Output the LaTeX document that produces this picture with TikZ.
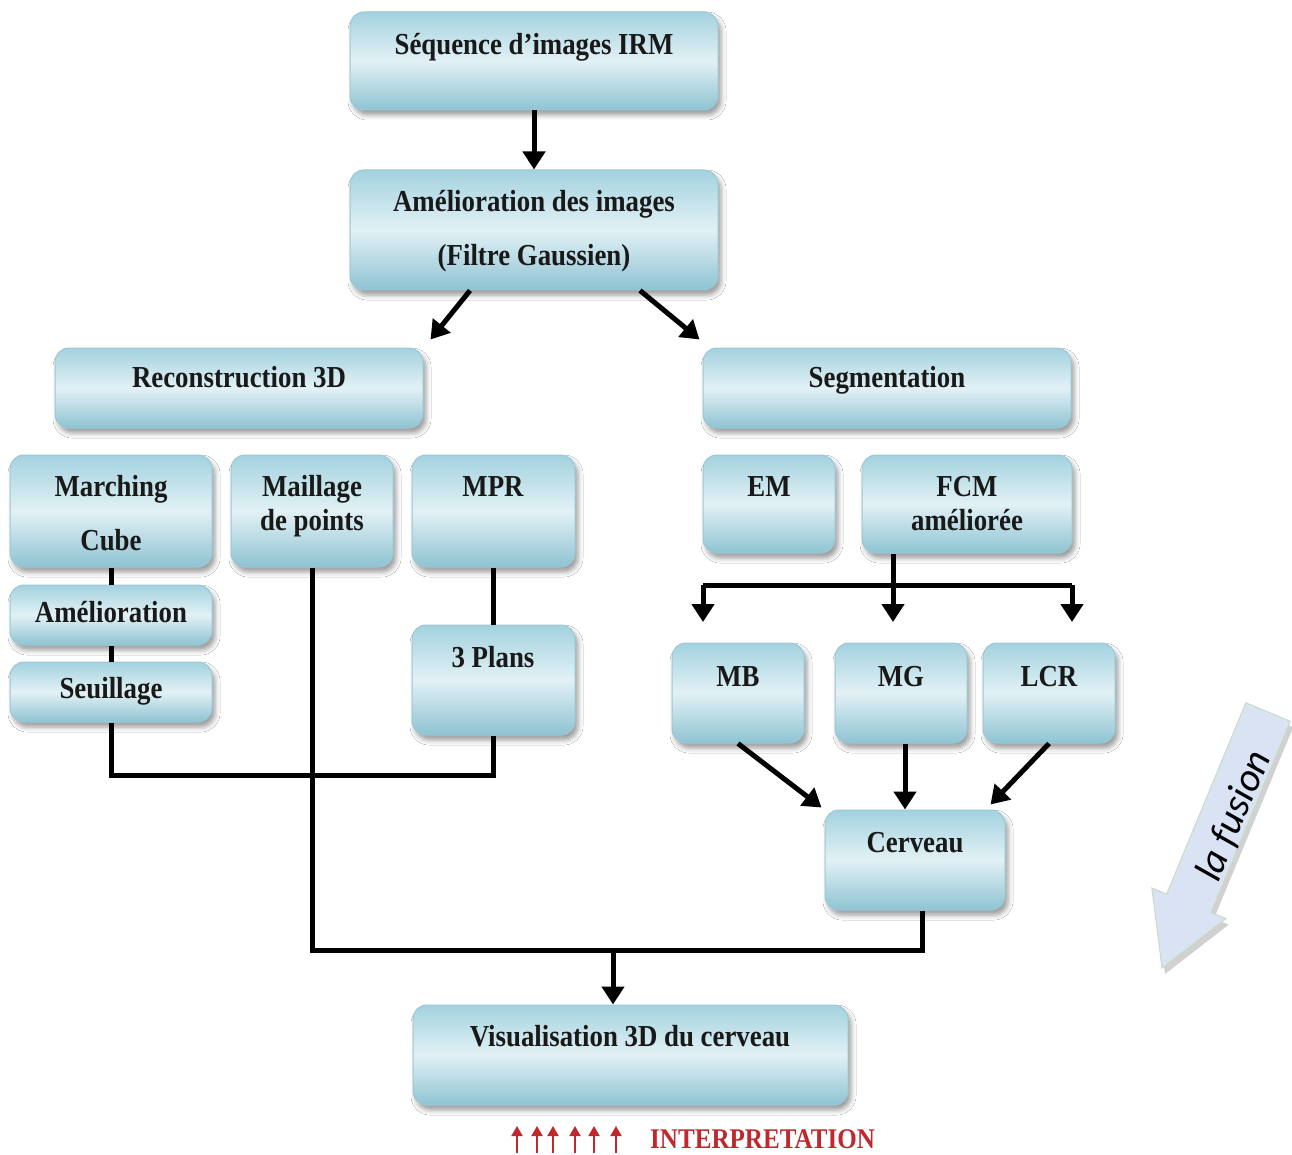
\documentclass[tikz,border=0pt]{standalone}
\usepackage{fontspec}
\setmainfont{Liberation Serif}[FakeStretch=0.88]
\newfontfamily\fusionfont{Carlito}
\usetikzlibrary{arrows.meta,shadows.blur,calc}
\definecolor{btop}{HTML}{A3D2DF}
\definecolor{bmid}{HTML}{E2F1F5}
\definecolor{bbot}{HTML}{8EC3D2}
\definecolor{bdraw}{HTML}{9CC8D5}
\definecolor{fusfill}{HTML}{D9E3F3}
\definecolor{fusdraw}{HTML}{C8DCC4}
\definecolor{redtxt}{HTML}{C0282D}
\tikzset{
 box/.style={draw=bdraw, line width=1pt, rounded corners=14pt, top color=btop, bottom color=bbot, middle color=bmid,
   blur shadow={shadow xshift=3pt, shadow yshift=-5pt, shadow blur radius=5pt, shadow opacity=40}, inner sep=0pt},
 txt/.style={font=\fontsize{30.5}{34}\selectfont\bfseries, text=black!90, anchor=base, inner sep=0pt},
 ln/.style={line width=5pt, black},
 arr/.style={ln, -{Triangle[length=18pt,width=22pt]}},
 redarr/.style={line width=2pt, redtxt, -{Triangle[length=10pt,width=11pt]}},
}
\newcommand\bx[5]{%
  \node[box, minimum width={(#4-#2)*1pt}, minimum height={(#5-#3)*1pt}] (#1) at ({(#2+#4)/2},{(#3+#5)/2}) {};}
\begin{document}
\begin{tikzpicture}[x=1pt,y=-1pt]
\fill[white] (0,0) rectangle (1292,1155);
\useasboundingbox (0,0) rectangle (1292,1155);

% boxes
\bx{seq}{350}{12}{718}{110}
\bx{ameli}{350}{170}{718}{290}
\bx{recon}{55}{348}{423}{428}
\bx{seg}{703}{348}{1071}{428}
\bx{march}{10}{455}{212}{567}
\bx{maill}{231}{455}{393}{567}
\bx{mpr}{412}{455}{575}{567}
\bx{amel}{10}{585}{212}{645}
\bx{seuil}{10}{662}{212}{722}
\bx{plans}{412}{625}{575}{735}
\bx{em}{703}{455}{835}{553}
\bx{fcm}{862}{455}{1072}{553}
\bx{mb}{672}{643}{804}{743}
\bx{mg}{835}{643}{967}{743}
\bx{lcr}{983}{643}{1115}{743}
\bx{cerv}{825}{810}{1005}{910}
\bx{visu}{413}{1005}{848}{1105}

% texts
\node[txt] (seq-t) at (534,55) {Séquence d’images IRM};
\node[txt] (ameli-t1) at (534,212) {Amélioration des images};
\node[txt] (ameli-t2) at (534,266) {(Filtre Gaussien)};
\node[txt] (recon-t) at (239,387) {Reconstruction 3D};
\node[txt] (seg-t) at (887,387) {Segmentation};
\node[txt] (march-t1) at (111,496) {Marching};
\node[txt] (march-t2) at (111,550) {Cube};
\node[txt] (maill-t1) at (312,496) {Maillage};
\node[txt] (maill-t2) at (312,530) {de points};
\node[txt] (mpr-t) at (493,496) {MPR};
\node[txt] (amel-t) at (111,622) {Amélioration};
\node[txt] (seuil-t) at (111,698) {Seuillage};
\node[txt] (plans-t) at (493,667) {3 Plans};
\node[txt] (em-t) at (769,496) {EM};
\node[txt] (fcm-t1) at (967,496) {FCM};
\node[txt] (fcm-t2) at (967,530) {améliorée};
\node[txt] (mb-t) at (738,686) {MB};
\node[txt] (mg-t) at (901,686) {MG};
\node[txt] (lcr-t) at (1049,686) {LCR};
\node[txt] (cerv-t) at (915,852) {Cerveau};
\node[txt] (visu-t) at (630,1046) {Visualisation 3D du cerveau};

% connectors
\draw[arr] (seq.south) -- (ameli.north);
\draw[arr] ([xshift=-64pt]ameli.south) -- ([xshift=7pt,yshift=8pt]recon.north east);
\draw[arr] ([xshift=106pt]ameli.south) -- ([xshift=-3pt,yshift=8pt]seg.north west);

\draw[ln] (march.south) -- (amel.north);
\draw[ln] (amel.south) -- (seuil.north);
\draw[ln] (mpr.south) -- (plans.north);
\coordinate (jl) at (313,775);
\draw[ln] (seuil.south) |- (jl) -| (plans.south);
\coordinate (jb) at (613,950);
\draw[ln] (maill.south) |- (jb) -| ([xshift=7pt]cerv.south);
\draw[arr] (jb) -- (jb |- visu.north);

\coordinate (jf) at (893,585);
\coordinate (hl) at (703,585);
\coordinate (hr) at (1072,585);
\draw[ln] ([xshift=-74pt]fcm.south) -- (jf);
\draw[ln] (hl) -- (hr);
\draw[arr] (hl) -- (hl |- 0,622);
\draw[arr] (jf) -- (jf |- 0,622);
\draw[arr] (hr) -- (hr |- 0,622);

\draw[arr] (mb.south) -- ([xshift=-3pt,yshift=2pt]cerv.north west);
\draw[arr] ([xshift=4pt]mg.south) -- ([xshift=4pt]mg.south |- cerv.north);
\draw[arr] (lcr.south) -- ([xshift=-15pt,yshift=5pt]cerv.north east);

% fusion arrow
\fill[black, opacity=0.18] (1293.2,727.2) -- (1214.0,918.5) -- (1228.8,924.6) -- (1165,974) -- (1154.8,894.0) -- (1169.6,900.1) -- (1248.8,708.8) -- cycle;
\draw[draw=fusdraw, line width=1pt, fill=fusfill] (1290.2,721.2) -- (1211.0,912.5) -- (1225.8,918.6) -- (1162,968) -- (1151.8,888.0) -- (1166.6,894.1) -- (1245.8,702.8) -- cycle;
\node[font=\fusionfont\itshape\fontsize{40}{40}\selectfont, rotate=67.5, inner sep=0pt] (fus) at (1234,816) {la fusion};

% interpretation
\foreach \xx in {517,537,553,575,594,616} \draw[redarr] (\xx,1153) -- (\xx,1126);
\node[font=\fontsize{28.5}{28.5}\selectfont\bfseries, text=redtxt, anchor=base west, inner sep=0pt] (interp) at (650,1148) {INTERPRETATION};
\end{tikzpicture}
\end{document}
